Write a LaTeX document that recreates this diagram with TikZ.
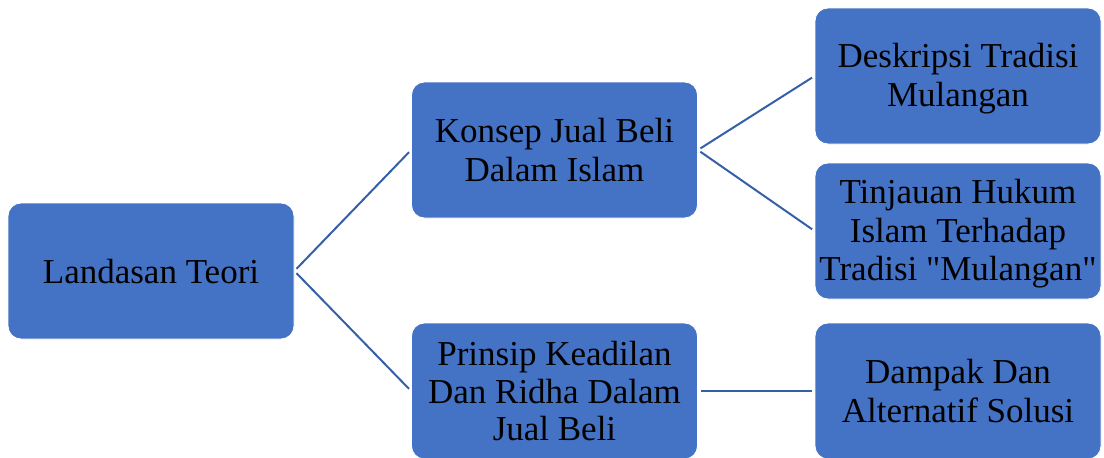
\documentclass[tikz,border=0pt]{standalone}
\usepackage{fontspec}
\newfontfamily\boxfont{Liberation Serif}
\definecolor{boxblue}{HTML}{4472C4}
\definecolor{linkblue}{HTML}{3560A8}
\newcommand{\lst}{\rule[-6pt]{0pt}{36pt}}
\begin{document}
\begin{tikzpicture}[x=1pt,y=-1pt,
  topic/.style={rectangle, rounded corners=13pt, fill=boxblue, draw=white, line width=0.8pt,
    minimum width=286pt, minimum height=136pt, align=center, inner sep=0pt,
    font=\boxfont\fontsize{35}{37}\selectfont, text=black},
  link/.style={draw=linkblue, line width=2pt, shorten <=3pt, shorten >=3pt}]
\useasboundingbox (0,0) rectangle (1104,458);
\node[topic] (L) at (151,271) {\lst Landasan Teori};
\node[topic] (K) at (554.5,150) {\lst Konsep Jual Beli\\\lst Dalam Islam};
\node[topic] (P) at (554.5,391) {\lst Prinsip Keadilan\\\lst Dan Ridha Dalam\\\lst Jual Beli};
\node[topic] (D) at (958,76) {\lst Deskripsi Tradisi\\\lst Mulangan};
\node[topic] (T) at (958,231) {\lst Tinjauan Hukum\\\lst Islam Terhadap\\\lst Tradisi "Mulangan"};
\node[topic] (A) at (958,391) {\lst Dampak Dan\\\lst Alternatif Solusi};
\draw[link] (L.east) -- (K.west);
\draw[link] (L.east) -- (P.west);
\draw[link] (K.east) -- (D.west);
\draw[link] (K.east) -- (T.west);
\draw[link] (P.east) -- (A.west);
\end{tikzpicture}
\end{document}
